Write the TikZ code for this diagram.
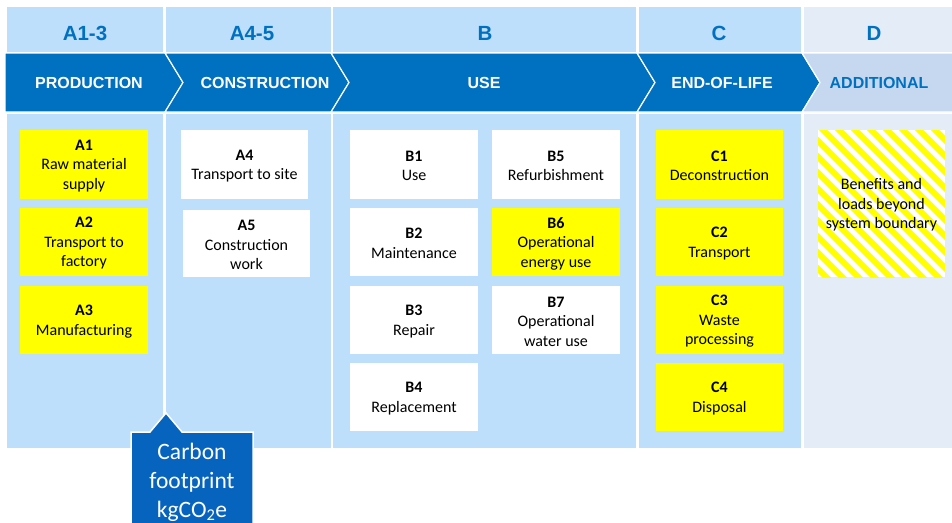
\documentclass[tikz,border=0pt]{standalone}
\usepackage{fontspec}
\setmainfont{Carlito}
\newfontfamily\hdr{Liberation Sans}
\definecolor{hdrblue}{RGB}{190,223,251}
\definecolor{darkblue}{RGB}{0,112,192}
\definecolor{dlight}{RGB}{228,236,247}
\definecolor{dchev}{RGB}{197,216,240}
\definecolor{callblue}{RGB}{6,100,190}
\definecolor{yel}{RGB}{255,255,0}
\tikzset{
  hdrbox/.style={fill=hdrblue, draw=none},
  hdrtxt/.style={font=\hdr\bfseries\fontsize{20.5}{24}\selectfont, text=darkblue},
  chev/.style={fill=darkblue, draw=white, line width=1.2pt},
  chevtxt/.style={font=\hdr\bfseries\fontsize{16}{19}\selectfont, text=white},
  ybox/.style={fill=yel, draw=none},
  wbox/.style={fill=white, draw=none},
  btxt/.style={font=\fontsize{16}{19.5}\selectfont, align=center, text=black, inner sep=0pt},
}
\begin{document}
\begin{tikzpicture}[x=1pt,y=-1pt]
\useasboundingbox (0,0) rectangle (952,522);
% header row
\fill[hdrbox] (7,7) rectangle (163,52);
\fill[hdrbox] (166,7) rectangle (331,52);
\fill[hdrbox] (333,7) rectangle (636,52);
\fill[hdrbox] (639,7) rectangle (801,52);
\fill[dlight] (804,7) rectangle (952,52);
\node[hdrtxt] (h1) at (85,33.5) {A1-3};
\node[hdrtxt] (h2) at (252,33.5) {A4-5};
\node[hdrtxt] (h3) at (485,33.5) {B};
\node[hdrtxt] (h4) at (719,33.5) {C};
\node[hdrtxt] (h5) at (874,33.5) {D};
% body columns
\fill[hdrbox] (7,114) rectangle (163,448);
\fill[hdrbox] (166,114) rectangle (331,448);
\fill[hdrbox] (333,114) rectangle (636,448);
\fill[hdrbox] (639,114) rectangle (801,448);
\fill[dlight] (804,114) rectangle (952,448);
% chevrons
\draw[chev] (5,53) -- (165,53) -- (183,82.5) -- (165,112) -- (5,112) -- cycle;
\draw[chev] (165,53) -- (331,53) -- (349,82.5) -- (331,112) -- (165,112) -- (183,82.5) -- cycle;
\draw[chev] (331,53) -- (637,53) -- (655,82.5) -- (637,112) -- (331,112) -- (349,82.5) -- cycle;
\draw[chev] (637,53) -- (802,53) -- (820,82.5) -- (802,112) -- (637,112) -- (655,82.5) -- cycle;
\draw[chev, fill=dchev] (802,53) -- (953,53) -- (953,112) -- (802,112) -- (820,82.5) -- cycle;
\node[chevtxt] (c1) at (89,82.5) {PRODUCTION};
\node[chevtxt] (c2) at (265,82.5) {CONSTRUCTION};
\node[chevtxt] (c3) at (484,82.5) {USE};
\node[chevtxt] (c4) at (722,82.5) {END-OF-LIFE};
\node[chevtxt, text=darkblue] (c5) at (879,82.5) {ADDITIONAL};
% A1-3 boxes
\fill[ybox] (20,130) rectangle (148,199);
\fill[ybox] (20,208) rectangle (148,276);
\fill[ybox] (20,286) rectangle (148,354);
\node[btxt] (a1) at (84,166) {\textbf{A1}\\Raw material\\supply};
\node[btxt] (a2) at (84,243.5) {\textbf{A2}\\Transport to\\factory};
\node[btxt] (a3) at (84,321.5) {\textbf{A3}\\Manufacturing};
% A4-5 boxes
\fill[wbox] (181,130) rectangle (308,199);
\fill[wbox] (183,210) rectangle (310,277);
\node[btxt] (a4) at (244.5,166) {\textbf{A4}\\Transport to site};
\node[btxt] (a5) at (246.5,245) {\textbf{A5}\\Construction\\work};
% B boxes
\fill[wbox] (350,130) rectangle (478,199);
\fill[wbox] (492,130) rectangle (620,199);
\fill[wbox] (350,208) rectangle (478,276);
\fill[ybox] (492,208) rectangle (620,276);
\fill[wbox] (350,286) rectangle (478,354);
\fill[wbox] (492,286) rectangle (620,354);
\fill[wbox] (350,363) rectangle (478,431);
\node[btxt] (b1) at (414,166) {\textbf{B1}\\Use};
\node[btxt] (b5) at (556,166) {\textbf{B5}\\Refurbishment};
\node[btxt] (b2) at (414,243.5) {\textbf{B2}\\Maintenance};
\node[btxt] (b6) at (556,243.5) {\textbf{B6}\\Operational\\energy use};
\node[btxt] (b3) at (414,321.5) {\textbf{B3}\\Repair};
\node[btxt] (b7) at (556,321.5) {\textbf{B7}\\Operational\\water use};
\node[btxt] (b4) at (414,398.5) {\textbf{B4}\\Replacement};
% C boxes
\fill[ybox] (656,130) rectangle (783,199);
\fill[ybox] (656,208) rectangle (783,276);
\fill[ybox] (656,286) rectangle (783,354);
\fill[ybox] (656,363) rectangle (783,431);
\node[btxt] (k1) at (719.5,166) {\textbf{C1}\\Deconstruction};
\node[btxt] (k2) at (719.5,243.5) {\textbf{C2}\\Transport};
\node[btxt] (k3) at (719.5,321.5) {\textbf{C3}\\Waste\\processing};
\node[btxt] (k4) at (719.5,398.5) {\textbf{C4}\\Disposal};
% D striped box
\fill[white] (818,130) rectangle (945,277);
\begin{scope}
\clip (818,130) rectangle (945,277);
\foreach \i in {-160,-144,...,140} {
  \draw[yel, line width=6pt] (818+\i,125) -- ++(170,170);
}
\end{scope}
\node[btxt] (d1) at (881.5,205) {Benefits and\\loads beyond\\system boundary};
% callout
\draw[fill=callblue, draw=white, line width=1.5pt] (131,432) -- (150,432) -- (166,413) -- (182,432) -- (253,432) -- (253,530) -- (131,530) -- cycle;
\node[font=\fontsize{23.5}{29}\selectfont, align=center, text=white, inner sep=0pt] (cf) at (192,482) {Carbon\\footprint\\kgCO\textsubscript{2}e};
\end{tikzpicture}
\end{document}
